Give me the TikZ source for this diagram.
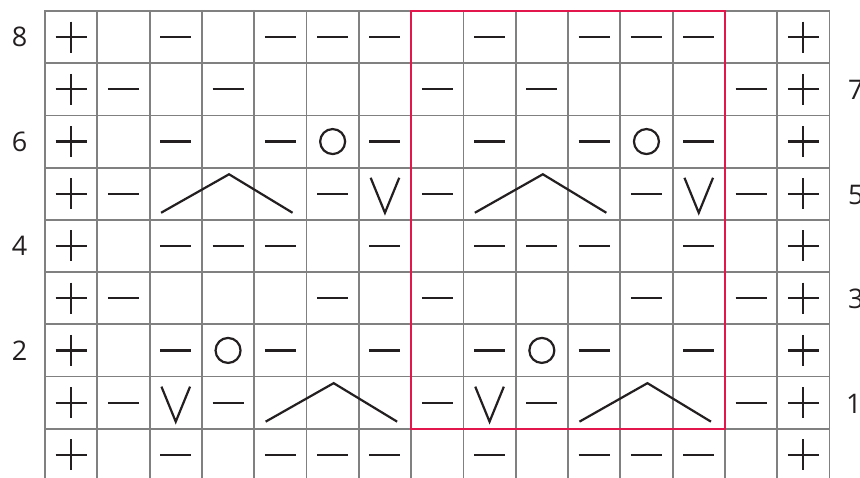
\documentclass[tikz,border=0pt]{standalone}
\usepackage{fontspec}
\setmainfont{Open Sans}
\definecolor{gridgray}{RGB}{128,128,128}
\definecolor{ink}{RGB}{35,31,32}
\definecolor{rep}{RGB}{226,24,76}
\newcommand\symP{\draw[symline] (-15.5,0) -- (15.5,0) (0,-15.5) -- (0,15.5);}
\newcommand\symD{\draw[symline] (-15.5,0) -- (15.5,0);}
\newcommand\symO{\draw[symline] (0,0) circle[radius=12.5];}
\newcommand\symV{\draw[symline] (-14.3,-16) -- (0,19) -- (14.3,-16);}
\newcommand\symK{\draw[symline] (-67,19) -- (1,-19.5) -- (64.5,19);}
\begin{document}
\begin{tikzpicture}[x=1pt,y=-1pt,
  gridline/.style={draw=gridgray,line width=1.8pt,line cap=rect},
  symline/.style={draw=ink,line width=2.2pt,line join=miter,line cap=butt},
  replab/.style={font=\fontsize{27}{27}\selectfont,text=ink,inner sep=0pt},
  repbox/.style={draw=rep,line width=2.5pt}]
\useasboundingbox (0,0) rectangle (860,477);
\clip (0,0) rectangle (860,477);
\fill[white] (0,0) rectangle (860,477);
% grid
\foreach \i in {0,...,15} \draw[gridline] ({45+\i*52.3},11) -- ({45+\i*52.3},490);
\foreach \j in {0,...,9} \draw[gridline] (45,{11+\j*52.22}) -- (829.5,{11+\j*52.22});
% symbols
\foreach \j/\lst in {
  0/{1/P,3/D,5/D,6/D,7/D,9/D,11/D,12/D,13/D,15/P},
  1/{1/P,2/D,4/D,8/D,10/D,14/D,15/P},
  2/{1/P,3/D,5/D,6/O,7/D,9/D,11/D,12/O,13/D,15/P},
  3/{1/P,2/D,4/K,6/D,7/V,8/D,10/K,12/D,13/V,14/D,15/P},
  4/{1/P,3/D,4/D,5/D,7/D,9/D,10/D,11/D,13/D,15/P},
  5/{1/P,2/D,6/D,8/D,12/D,14/D,15/P},
  6/{1/P,3/D,4/O,5/D,7/D,9/D,10/O,11/D,13/D,15/P},
  7/{1/P,2/D,3/V,4/D,6/K,8/D,9/V,10/D,12/K,14/D,15/P},
  8/{1/P,3/D,5/D,6/D,7/D,9/D,11/D,12/D,13/D,15/P}}{
  \foreach \c/\t in \lst {
    \begin{scope}[shift={({45+(\c-0.5)*52.3},{11+(\j+0.5)*52.22})}]
      \csname sym\t\endcsname
    \end{scope}
  }
}
% repeat box
\draw[repbox] (411.1,11) rectangle (724.9,428.76);
% row numbers
\node[replab] (l8) at (19.5,{11+0.5*52.22}) {8};
\node[replab] (l6) at (19.5,{11+2.5*52.22}) {6};
\node[replab] (l4) at (19.5,{11+4.5*52.22}) {4};
\node[replab] (l2) at (19.5,{11+6.5*52.22}) {2};
\node[replab,anchor=west] (r7) at (848,{12+1.5*52.22}) {7};
\node[replab,anchor=west] (r5) at (848,{12+3.5*52.22}) {5};
\node[replab,anchor=west] (r3) at (848,{12+5.5*52.22}) {3};
\node[replab,anchor=west] (r1) at (846,{12+7.5*52.22}) {1};
\end{tikzpicture}
\end{document}
